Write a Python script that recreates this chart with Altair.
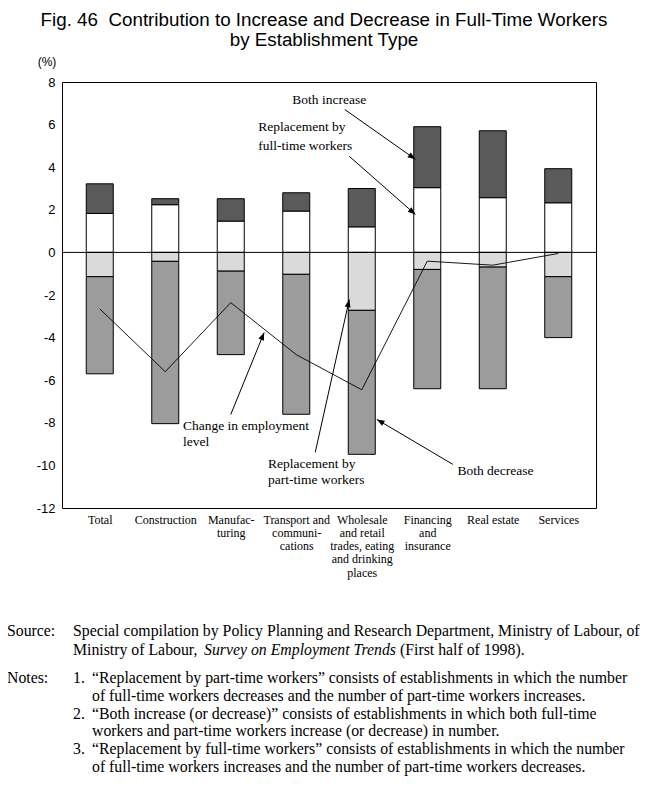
import json
import math
import altair as alt
import pandas as pd

# ---------------- data ----------------
categories = ["Total", "Construction", "Manufac-|turing",
              "Transport and|communi-|cations",
              "Wholesale|and retail|trades, eating|and drinking|places",
              "Financing|and|insurance", "Real estate", "Services"]
repl_full = [1.83, 2.24, 1.47, 1.94, 1.20, 3.04, 2.57, 2.33]     # Replacement by full-time workers
both_inc = [1.39, 0.28, 1.05, 0.86, 1.80, 2.86, 3.14, 1.60]      # Both increase
repl_part = [-1.14, -0.42, -0.88, -1.03, -2.72, -0.80, -0.69, -1.14]  # Replacement by part-time workers
both_dec = [-4.56, -7.62, -3.92, -6.57, -6.76, -5.60, -5.71, -2.86]   # Both decrease
change = [-2.65, -5.60, -2.36, -4.80, -6.45, -0.41, -0.60, -0.05]     # Change in employment level

series_names = ["Replacement by full-time workers", "Both increase",
                "Replacement by part-time workers", "Both decrease"]
series_fill = ["#ffffff", "#5a5a5a", "#dadada", "#9c9c9c"]

# annotations (data coordinates: x = category index, y = %)
ann_text = ["Both increase", "Replacement by\nfull-time workers",
            "Change in employment\nlevel", "Replacement by\npart-time workers",
            "Both decrease"]
ann_x = [2.94, 2.42, 1.27, 2.57, 5.46]
ann_y = [7.50, 6.20, -7.84, -9.62, -9.95]
ann_lh = [18, 19, 16, 16, 16]

arrow_x1 = [3.74, 3.81, 2.00, 3.29, 5.39]
arrow_y1 = [6.71, 4.51, -7.61, -9.39, -9.95]
arrow_x2 = [4.82, 4.82, 2.51, 3.81, 4.23]
arrow_y2 = [4.37, 1.78, -3.76, -2.21, -7.84]

title_lines = ["Fig. 46 \u00a0Contribution to Increase and Decrease in Full-Time Workers",
               "by Establishment Type"]

# ---------------- layout ----------------
W, H = 534, 426
XD = [-0.5, 7.5]
YD = [-12, 8]
px_x = W / (XD[1] - XD[0])
px_y = H / (YD[1] - YD[0])

xs = alt.Scale(domain=XD, nice=False, zero=False)
ys = alt.Scale(domain=YD, nice=False, zero=False)

label_expr = "split(" + json.dumps(categories) + "[datum.value], '|')"
x_axis = alt.Axis(values=list(range(8)), labelExpr=label_expr, ticks=False,
                  domain=False, grid=False, labelFont="Liberation Serif",
                  labelFontSize=12, labelColor="black", labelLineHeight=13.3,
                  labelPadding=6, labelFlush=False, labelOverlap=False,
                  labelAlign="center", labelBaseline="top", title=None)
y_axis = alt.Axis(values=list(range(-12, 9, 2)), ticks=False, domain=False,
                  grid=False, labelFont="Liberation Sans", labelFontSize=13,
                  labelColor="black", labelPadding=7, title=None,
                  labelExpr="'' + datum.value")


def X(field):
    return alt.X(field, scale=xs, axis=x_axis, title=None)


def Y(field):
    return alt.Y(field, scale=ys, axis=y_axis, title=None)


rows = []
for i in range(len(categories)):
    rows.append({"idx": i, "series": series_names[0], "y0": 0, "y1": repl_full[i]})
    rows.append({"idx": i, "series": series_names[1], "y0": repl_full[i], "y1": repl_full[i] + both_inc[i]})
    rows.append({"idx": i, "series": series_names[2], "y0": 0, "y1": repl_part[i]})
    rows.append({"idx": i, "series": series_names[3], "y0": repl_part[i], "y1": repl_part[i] + both_dec[i]})
bars_df = pd.DataFrame(rows)

bars = alt.Chart(bars_df).mark_bar(size=27, stroke="black", strokeWidth=1).encode(
    x=X("idx:Q"),
    y=Y("y0:Q"),
    y2="y1:Q",
    fill=alt.Fill("series:N", scale=alt.Scale(domain=series_names, range=series_fill),
                  legend=None),
)

zero = alt.Chart(pd.DataFrame({"z": [0]})).mark_rule(color="black", strokeWidth=1).encode(
    y=Y("z:Q")
)

line = alt.Chart(pd.DataFrame({"idx": list(range(8)), "v": change})).mark_line(
    color="black", strokeWidth=0.9).encode(x=X("idx:Q"), y=Y("v:Q"))

arr_df = pd.DataFrame({"x1": arrow_x1, "y1": arrow_y1, "x2": arrow_x2, "y2": arrow_y2})
arr_df["ang"] = [
    (math.degrees(math.atan2((b - a) * px_x, (d - c) * px_y)) + 360) % 360
    for a, b, c, d in zip(arrow_x1, arrow_x2, arrow_y1, arrow_y2)
]
shafts = alt.Chart(arr_df).mark_rule(color="black", strokeWidth=1).encode(
    x=X("x1:Q"), x2="x2:Q", y=Y("y1:Q"), y2="y2:Q",
)
heads = alt.Chart(arr_df).mark_point(
    shape="M0,0L-0.38,1L0.38,1Z", size=240, filled=True, color="black", opacity=1
).encode(
    x=X("x2:Q"), y=Y("y2:Q"),
    angle=alt.Angle("ang:Q", scale=None),
)

ann_layers = []
for t, x, y, lh in zip(ann_text, ann_x, ann_y, ann_lh):
    ann_layers.append(
        alt.Chart(pd.DataFrame({"x": [x], "y": [y], "t": [t]})).mark_text(
            align="left", baseline="top", font="Liberation Serif", fontSize=13.5,
            lineBreak="\n", lineHeight=lh, color="black").encode(
            x=X("x:Q"), y=Y("y:Q"), text="t:N")
    )

# ---------------- free text (pixel positions relative to plot origin) ----------------
one = pd.DataFrame({"a": [0]})


def free_text(t, x, y, font="Liberation Serif", size=15.8, align="left", style="normal"):
    return alt.Chart(one).mark_text(
        align=align, baseline="middle", font=font, fontSize=size, fontStyle=style,
        color="black", text=t
    ).encode(x=alt.value(x), y=alt.value(y))


texts = []
texts.append(free_text(title_lines[0], W / 2 - 5, -62, font="Liberation Sans", size=18.8, align="center"))
texts.append(free_text(title_lines[1], W / 2 - 5, -42, font="Liberation Sans", size=18.8, align="center"))
texts.append(free_text("(%)", -15, -20, font="Liberation Sans", size=12, align="center"))

foot = [
    ("Source:", -55, 549, "normal"),
    ("Special compilation by Policy Planning and Research Department, Ministry of Labour, of", 11, 549, "normal"),
    ("Ministry of Labour,", 11, 568, "normal"),
    ("Survey on Employment Trends", 142, 568, "italic"),
    ("(First half of 1998).", 338, 568, "normal"),
    ("Notes:", -55, 596, "normal"),
    ("1.", 11, 596, "normal"),
    ("\u201cReplacement by part-time workers\u201d consists of establishments in which the number", 30, 596, "normal"),
    ("of full-time workers decreases and the number of part-time workers increases.", 30, 614, "normal"),
    ("2.", 11, 632, "normal"),
    ("\u201cBoth increase (or decrease)\u201d consists of establishments in which both full-time", 30, 632, "normal"),
    ("workers and part-time workers increase (or decrease) in number.", 30, 649, "normal"),
    ("3.", 11, 667, "normal"),
    ("\u201cReplacement by full-time workers\u201d consists of establishments in which the number", 30, 667, "normal"),
    ("of full-time workers increases and the number of part-time workers decreases.", 30, 685, "normal"),
]
for t, x, y, st in foot:
    texts.append(free_text(t, x, y, style=st))

chart = alt.layer(bars, zero, line, shafts, heads, *ann_layers, *texts).properties(
    width=W, height=H,
    autosize=alt.AutoSizeParams(type="none"),
    padding={"left": 54, "top": 74, "right": 45, "bottom": 268},
).configure_view(stroke="black", strokeWidth=1)

chart.save("out.html", embed_options={"renderer": "svg", "actions": False})
